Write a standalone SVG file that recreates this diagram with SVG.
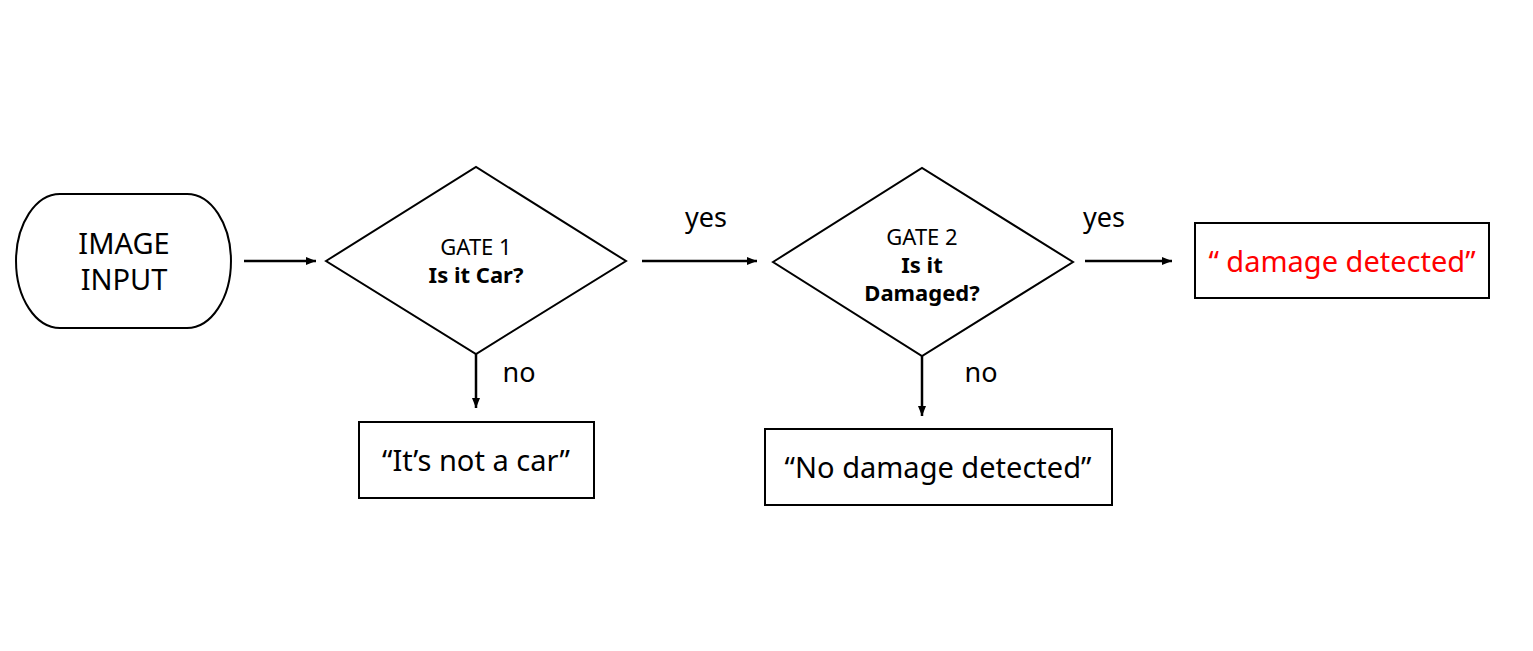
<svg xmlns="http://www.w3.org/2000/svg" width="1533" height="651" viewBox="0 0 1533 651">
<style>
.shape{fill:#fff;stroke:#000;stroke-width:2}
.conn{stroke:#000;stroke-width:2.5;fill:none}
.t{font-family:"Noto Sans","Open Sans",sans-serif;fill:#000;text-anchor:middle}
.big{font-size:29px}
.small{font-size:22px}
.b{font-weight:bold}
.lbl{font-family:"Noto Sans","Open Sans",sans-serif;font-size:27px;fill:#000;text-anchor:middle}
</style>
<defs>
<marker id="ah" markerUnits="userSpaceOnUse" markerWidth="12" markerHeight="10" refX="10" refY="4" orient="auto">
<path d="M0,0 L10,4 L0,8 Z" fill="#000"/>
</marker>
</defs>
<rect width="1533" height="651" fill="#fff"/>
<g id="connectors">
<line class="conn" x1="244" y1="261" x2="316" y2="261" marker-end="url(#ah)"/>
<line class="conn" x1="642" y1="261" x2="757" y2="261" marker-end="url(#ah)"/>
<line class="conn" x1="1085" y1="261" x2="1172" y2="261" marker-end="url(#ah)"/>
<line class="conn" x1="476" y1="354" x2="476" y2="408" marker-end="url(#ah)"/>
<line class="conn" x1="922" y1="356" x2="922" y2="416" marker-end="url(#ah)"/>
<text class="lbl" x="706" y="227">yes</text>
<text class="lbl" x="1104" y="227">yes</text>
<text class="lbl" x="519" y="382">no</text>
<text class="lbl" x="981" y="382">no</text>
</g>
<g id="image-input">
<path class="shape" d="M60,194 H187 A44,67 0 0 1 187,328 H60 A44,67 0 0 1 60,194 Z"/>
<text class="t big" x="124" y="254">IMAGE</text>
<text class="t big" x="124" y="290">INPUT</text>
</g>
<g id="gate1">
<polygon class="shape" points="326,261 476,167 626,261 476,354"/>
<text class="t small" x="476" y="255">GATE 1</text>
<text class="t small b" x="476" y="283">Is it Car?</text>
</g>
<g id="gate2">
<polygon class="shape" points="773,262 922,168 1073,262 922,356"/>
<text class="t small" x="922" y="245">GATE 2</text>
<text class="t small b" x="922" y="273">Is it</text>
<text class="t small b" x="922" y="301">Damaged?</text>
</g>
<g id="damage-detected">
<rect class="shape" x="1195" y="223" width="294" height="75"/>
<text class="t big" x="1342" y="272" style="fill:#ff0000">“ damage detected”</text>
</g>
<g id="not-a-car">
<rect class="shape" x="359" y="422" width="235" height="76"/>
<text class="t big" x="476" y="471">“It’s not a car”</text>
</g>
<g id="no-damage">
<rect class="shape" x="765" y="429" width="347" height="76"/>
<text class="t big" x="938" y="478">“No damage detected”</text>
</g>
</svg>
